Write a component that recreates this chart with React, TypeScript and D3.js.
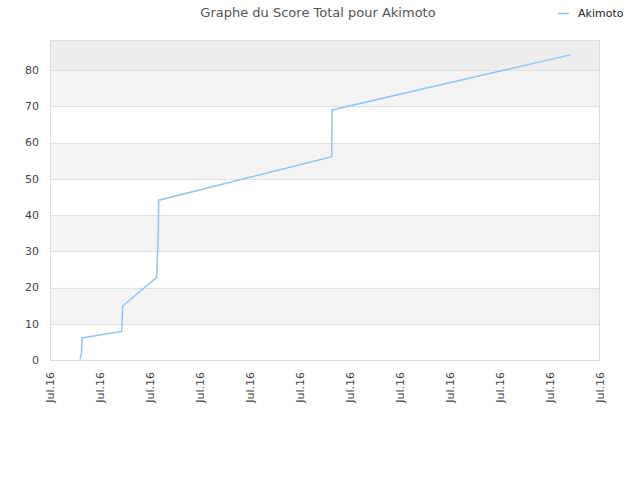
import React, { useEffect, useRef } from 'react';
import * as d3 from 'd3';

// Score history
const dates = [
  '2016-07-02T04:48', '2016-07-02T06:14', '2016-07-02T06:43', '2016-07-03T20:50',
  '2016-07-03T21:48', '2016-07-05T06:26', '2016-07-05T07:58', '2016-07-05T08:21',
  '2016-07-12T06:26', '2016-07-12T06:43', '2016-07-21T19:29',
];
const scores = [0.2, 1.8, 6.1, 7.9, 14.9, 22.8, 35.9, 44.1, 56.1, 69.0, 84.2];

const yTicks = [0, 10, 20, 30, 40, 50, 60, 70, 80];
const xStart = '2016-07-01T00:00';
const xEnd = '2016-07-23T00:00';
const xTickCount = 12;

const seriesName = 'Akimoto';
const title = 'Graphe du Score Total pour Akimoto';

const App: React.FC = () => {
  const svgRef = useRef<SVGSVGElement>(null);

  useEffect(() => {
    if (!svgRef.current) return;
    document.body.style.margin = '0';
    const svg = d3.select(svgRef.current);
    svg.selectAll('*').remove();

    const width = 640;
    const height = 480;
    const margin = { top: 40, right: 40, bottom: 120, left: 50 };
    const font = '"DejaVu Sans", Verdana, sans-serif';

    const parse = d3.timeParse('%Y-%m-%dT%H:%M');
    const data = dates.map((d, i) => ({ date: parse(d)!, value: scores[i] }));

    const x = d3.scaleTime()
      .domain([parse(xStart)!, parse(xEnd)!])
      .range([margin.left, width - margin.right]);

    const y = d3.scaleLinear()
      .domain([0, 88.3])
      .range([height - margin.bottom, margin.top]);

    // alternating bands
    const bandEdges = [...yTicks, y.domain()[1]];
    for (let i = 0; i < bandEdges.length - 1; i++) {
      let fill = i % 2 === 1 ? '#f3f3f3' : '#ffffff';
      if (i === bandEdges.length - 2) fill = '#eeeeee';
      svg.append('rect')
        .attr('x', margin.left)
        .attr('width', width - margin.right - margin.left)
        .attr('y', y(bandEdges[i + 1]))
        .attr('height', y(bandEdges[i]) - y(bandEdges[i + 1]))
        .attr('fill', fill);
    }

    // grid lines
    svg.selectAll('.grid')
      .data(yTicks.slice(1))
      .join('line')
      .attr('x1', margin.left)
      .attr('x2', width - margin.right)
      .attr('y1', d => Math.round(y(d)) + 0.5)
      .attr('y2', d => Math.round(y(d)) + 0.5)
      .attr('stroke', '#e0e0e0')
      .attr('stroke-width', 1);

    // frame
    svg.append('rect')
      .attr('x', margin.left + 0.5)
      .attr('y', margin.top + 0.5)
      .attr('width', width - margin.right - margin.left - 1)
      .attr('height', height - margin.bottom - margin.top)
      .attr('fill', 'none')
      .attr('stroke', '#dddddd');

    // y labels
    svg.selectAll('.ylab')
      .data(yTicks)
      .join('text')
      .attr('x', margin.left - 11)
      .attr('y', d => y(d))
      .attr('dy', '0.35em')
      .attr('text-anchor', 'end')
      .attr('fill', '#444')
      .style('font-family', font)
      .style('font-size', '11px')
      .text(d => d);

    // x labels
    const xTicks = d3.range(xTickCount).map(i =>
      new Date(x.domain()[0].getTime() + i * (x.domain()[1].getTime() - x.domain()[0].getTime()) / (xTickCount - 1)));
    const fmt = d3.timeFormat('%b.%y');
    svg.selectAll('.xlab')
      .data(xTicks)
      .join('text')
      .attr('transform', d => `translate(${x(d) + 4},${height - margin.bottom + 12}) rotate(-90)`)
      .attr('text-anchor', 'end')
      .attr('fill', '#444')
      .style('font-family', font)
      .style('font-size', '11px')
      .text(d => fmt(d));

    // line
    const line = d3.line<{ date: Date; value: number }>()
      .x(d => x(d.date))
      .y(d => y(d.value));

    svg.append('path')
      .datum(data)
      .attr('d', line)
      .attr('fill', 'none')
      .attr('stroke', '#90c4f5')
      .attr('stroke-width', 1.5);

    // title
    svg.append('text')
      .attr('x', 318)
      .attr('y', 17)
      .attr('text-anchor', 'middle')
      .attr('fill', '#555')
      .style('font-family', font)
      .style('font-size', '13px')
      .text(title);

    // legend
    svg.append('line')
      .attr('x1', 558).attr('x2', 569)
      .attr('y1', 13.5).attr('y2', 13.5)
      .attr('stroke', '#90c4f5')
      .attr('stroke-width', 1.5);
    svg.append('text')
      .attr('x', 578)
      .attr('y', 13)
      .attr('dy', '0.35em')
      .attr('fill', '#222')
      .style('font-family', font)
      .style('font-size', '11px')
      .text(seriesName);
  }, []);

  return <svg ref={svgRef} width={640} height={480} style={{ display: 'block', background: '#fff' }} />;
};

export default App;
